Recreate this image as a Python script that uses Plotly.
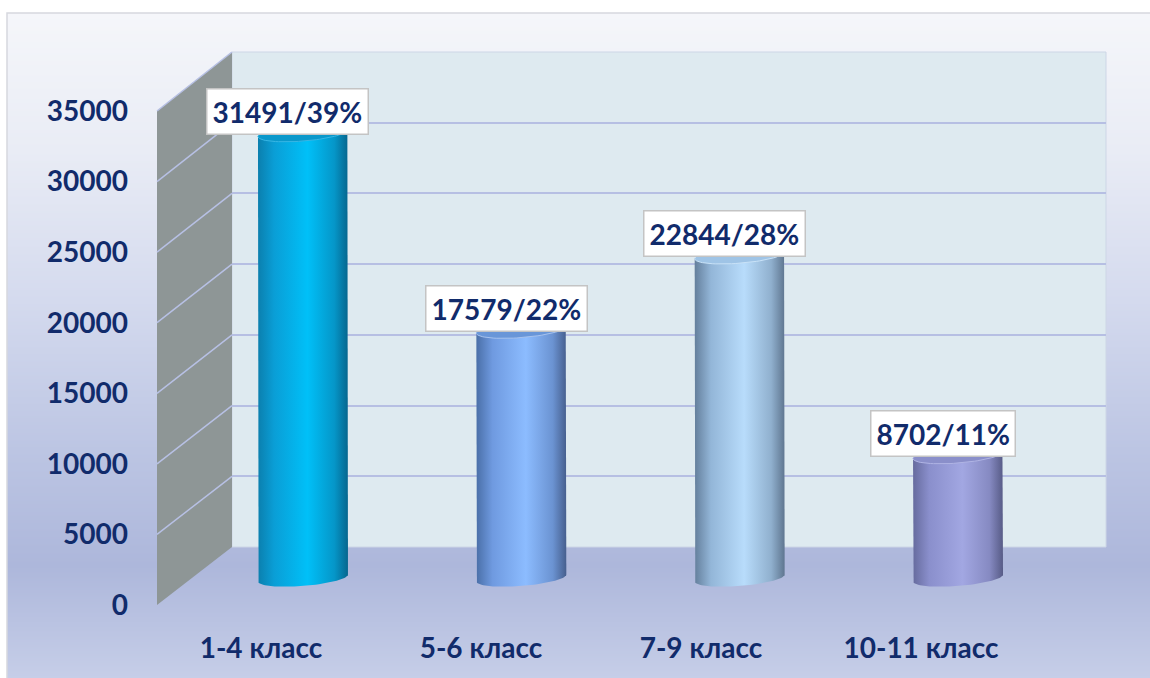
import plotly.graph_objects as go
import numpy as np
import zlib, struct, base64

# ---------------- data ----------------
categories = ["1-4 класс", "5-6 класс", "7-9 класс", "10-11 класс"]
values = [31491, 17579, 22844, 8702]
percents = [39, 22, 28, 11]
y_ticks = [0, 5000, 10000, 15000, 20000, 25000, 30000, 35000]

# bar colour ramps (left edge, left-mid, highlight, right-mid, right edge) and top face
bar_ramps = [
    ["#0b7fae", "#0a9ed6", "#00c0f8", "#0596c8", "#06668e"],
    ["#4a6fa8", "#6f9ae0", "#8cbcff", "#6b93d2", "#465f8e"],
    ["#647f9c", "#93b6d8", "#b8dcfb", "#90b0ce", "#5f7690"],
    ["#666b9e", "#8a8fcc", "#a2a7e2", "#868ac2", "#575b86"],
]
top_colors = ["#0a98cb", "#6996d8", "#9fc4e6", "#8a8fca"]
rim_colors = ["#38b6e4", "#a6c2ee", "#c9e2f7", "#b0b4e4"]

TEXT = "#112b6b"
FONT = "Lato"

W, H = 1150, 678
def X(px): return px / W
def Y(py): return 1 - py / H

YMAX = 35000

# ---------------- background gradient image ----------------
def png_gradient(stops, h):
    rows = []
    ys = [s[0] for s in stops]
    for r in range(h):
        y = 13 + r
        c = [int(round(np.interp(y, ys, [s[1][j] for s in stops]))) for j in range(3)]
        rows.append(b"\x00" + bytes(c))
    raw = b"".join(rows)
    def chunk(t, d):
        c = struct.pack(">I", len(d)) + t + d
        return c + struct.pack(">I", zlib.crc32(t + d) & 0xffffffff)
    png = b"\x89PNG\r\n\x1a\n" + chunk(b"IHDR", struct.pack(">IIBBBBB", 1, h, 8, 2, 0, 0, 0))
    png += chunk(b"IDAT", zlib.compress(raw, 9)) + chunk(b"IEND", b"")
    return "data:image/png;base64," + base64.b64encode(png).decode()

bg_stops = [
    (13, (245, 246, 250)),
    (150, (233, 236, 245)),
    (300, (212, 218, 238)),
    (450, (188, 197, 227)),
    (565, (173, 183, 219)),
    (678, (198, 206, 232)),
]
bg_src = png_gradient(bg_stops, H - 13)

fig = go.Figure()

# dummy traces to create the back-wall grid subplot and the front label subplot
fig.add_trace(go.Scatter(x=[None], y=[None], xaxis="x", yaxis="y",
                         showlegend=False, hoverinfo="skip"))
fig.add_trace(go.Scatter(x=[None], y=[None], xaxis="x3", yaxis="y3",
                         showlegend=False, hoverinfo="skip"))

# ---------------- cylinders (mid-depth axes x2/y2) ----------------
a = 0.206                 # half width in category units
pxy = YMAX / 494.5        # data units per pixel on y2
b = 8 * pxy               # ellipse half height
k = 3.5 * pxy             # tilt
tb = np.linspace(np.pi, 2 * np.pi, 40)
tt = np.linspace(0, np.pi, 40)
tf = np.linspace(0, 2 * np.pi, 80)

for i, v in enumerate(values):
    cx = i
    xs = [cx - a, cx - a]
    ys = [v - k, -k]
    xs += list(cx + a * np.cos(tb))
    ys += list(k * np.cos(tb) + b * np.sin(tb))
    xs += [cx + a, cx + a]
    ys += [k, v + k]
    xs += list(cx + a * np.cos(tt))
    ys += list(v + k * np.cos(tt) + b * np.sin(tt))
    ramp = bar_ramps[i]
    fig.add_trace(go.Scatter(
        x=xs, y=ys, xaxis="x2", yaxis="y2", mode="lines", fill="toself",
        line=dict(width=0, color=ramp[2]),
        fillgradient=dict(type="horizontal",
                          colorscale=[[0, ramp[0]], [0.18, ramp[1]], [0.55, ramp[2]],
                                      [0.85, ramp[3]], [1, ramp[4]]]),
        showlegend=False, hoverinfo="skip"))
    fig.add_trace(go.Scatter(
        x=list(cx + a * np.cos(tf)), y=list(v + k * np.cos(tf) + b * np.sin(tf)),
        xaxis="x2", yaxis="y2", mode="lines", fill="toself",
        fillcolor=top_colors[i], line=dict(width=1, color=rim_colors[i]),
        showlegend=False, hoverinfo="skip"))

# ---------------- data labels ----------------
annotations = []
for i, v in enumerate(values):
    annotations.append(dict(
        x=i, y=v, xref="x2", yref="y2", xshift=-15, yshift=-2,
        yanchor="bottom", xanchor="center", showarrow=False,
        text=f"{v}/{percents[i]}%",
        font=dict(family=FONT, size=28, color=TEXT, weight="bold"),
        bgcolor="white", bordercolor="#c4c4c4", borderwidth=1.5, borderpad=5))

# ---------------- walls ----------------
front_top, front_bot = 111, 605
back_top, back_bot = 52, 547
fx, bx, rx = 157, 232, 1106

def front_px(v): return front_bot - v / YMAX * (front_bot - front_top)
def back_px(v): return back_bot - v / YMAX * (back_bot - back_top)

shapes = []
# chart area border
shapes.append(dict(type="rect", xref="paper", yref="paper", layer="below",
                   x0=X(7), x1=X(1170), y0=Y(13), y1=Y(700),
                   line=dict(color="#d6d8de", width=1.5), fillcolor="rgba(0,0,0,0)"))
# back wall
shapes.append(dict(type="rect", xref="paper", yref="paper", layer="below",
                   x0=X(bx), x1=X(rx), y0=Y(back_bot), y1=Y(back_top),
                   line=dict(color="#cdd6e6", width=1), fillcolor="#deeaf0"))
# side wall
path = "M {} {} L {} {} L {} {} L {} {} Z".format(
    X(fx), Y(front_px(YMAX)), X(bx), Y(back_px(YMAX)),
    X(bx), Y(back_px(0)), X(fx), Y(front_px(0)))
shapes.append(dict(type="path", xref="paper", yref="paper", layer="below",
                   path=path, fillcolor="#8e9696", line=dict(width=0)))
for v in y_ticks[1:]:
    shapes.append(dict(type="line", xref="paper", yref="paper", layer="below",
                       x0=X(fx), y0=Y(front_px(v)), x1=X(bx), y1=Y(back_px(v)),
                       line=dict(color="#b7c0e4", width=1.5)))

tickfont = dict(family=FONT, size=28, color=TEXT, weight="bold")

# mid-depth axis: 0 at pixel 578, 1 px = pxy units; extra room below zero
y2_lo = -3000
y2_bot_px = 578 + (-y2_lo) / pxy
y2_top_px = 578 - YMAX / pxy

fig.update_layout(
    width=W, height=H,
    margin=dict(l=0, r=0, t=0, b=0, pad=0, autoexpand=False),
    paper_bgcolor="white",
    plot_bgcolor="rgba(0,0,0,0)",
    showlegend=False,
    images=[dict(source=bg_src, xref="paper", yref="paper", x=X(7), y=Y(13),
                 sizex=X(1150) - X(7), sizey=Y(13) - Y(678), sizing="stretch",
                 xanchor="left", yanchor="top", layer="below")],
    shapes=shapes,
    annotations=annotations,
    # back wall grid
    xaxis=dict(domain=[X(bx), X(rx)], range=[0, 1], visible=False, fixedrange=True,
               automargin=False),
    yaxis=dict(domain=[Y(back_bot), Y(back_top)], range=[0, YMAX], anchor="x",
               tickvals=y_ticks[1:], showticklabels=False, ticks="",
               showgrid=True, gridcolor="#b6bfe3", gridwidth=1.5,
               zeroline=False, showline=False, fixedrange=True, automargin=False),
    # bars (mid depth)
    xaxis2=dict(domain=[X(193.8), X(1067.2)], range=[-0.5, 3.5], visible=False,
                anchor="y2", fixedrange=True, automargin=False),
    yaxis2=dict(domain=[Y(y2_bot_px), Y(y2_top_px)], range=[y2_lo, YMAX], visible=False,
                anchor="x2", fixedrange=True, automargin=False),
    # front labels
    xaxis3=dict(domain=[X(151), X(1031)], range=[-0.5, 3.5], anchor="y3",
                tickvals=list(range(len(categories))), ticktext=categories,
                tickfont=tickfont, ticks="", showgrid=False, zeroline=False,
                showline=False, ticklabelstandoff=24, fixedrange=True,
                automargin=False),
    yaxis3=dict(domain=[Y(front_bot), Y(front_top)], range=[0, YMAX], anchor="x3",
                tickvals=y_ticks, ticktext=[str(t) for t in y_ticks],
                tickfont=tickfont, ticks="", showgrid=False, zeroline=False,
                showline=False, ticklabelstandoff=22, fixedrange=True,
                automargin=False),
)

fig.write_html("out.html", config={"displayModeBar": False},
               post_script="document.body.style.margin='0px';")
